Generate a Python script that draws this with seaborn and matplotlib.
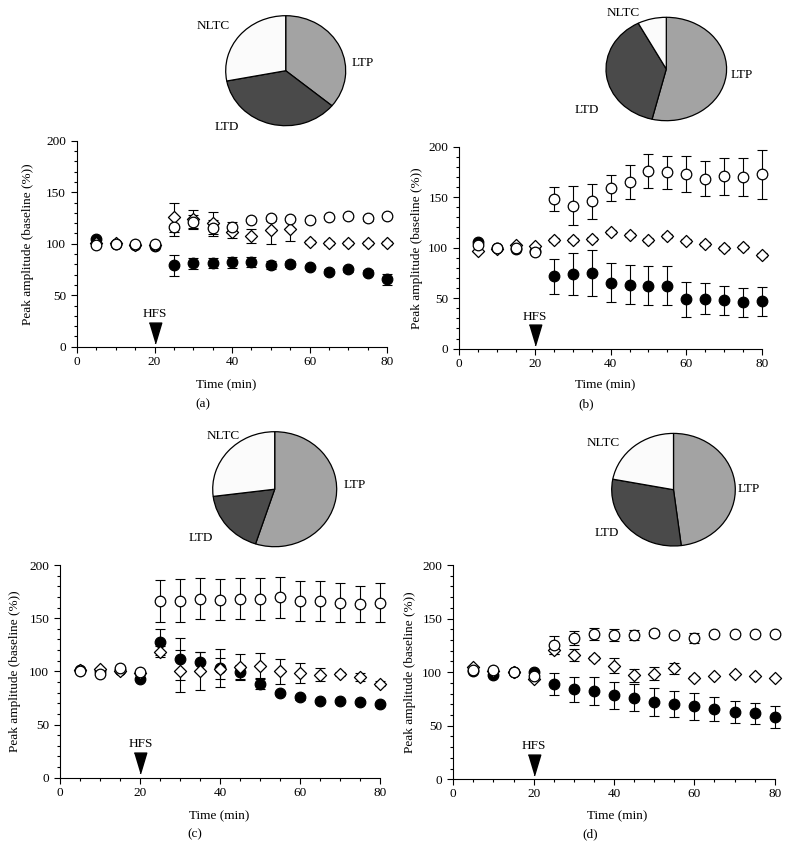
import matplotlib
matplotlib.use("Agg")
import matplotlib.pyplot as plt
import seaborn as sns
from matplotlib.ticker import MultipleLocator

# ---------------- data ----------------
time_min = [5, 10, 15, 20, 25, 30, 35, 40, 45, 50, 55, 60, 65, 70, 75, 80]

# panel (a)
ltd_a = [105, 100, 98.5, 98, 79, 81, 81, 82, 82, 79, 80, 77.5, 73, 75, 72, 65.5]
ltd_a_err = [1, 1, 1, 1, 10, 5.5, 5, 5.5, 5, 4, 3, 2, 2, 2, 2, 5.5]
ltp_a = [98.5, 100, 100, 100, 116.5, 121, 115, 116.5, 123, 124.5, 124, 123, 126, 127, 124.5, 127]
ltp_a_err = [1, 1, 1, 1, 9, 7, 8, 5, 2, 2, 2, 2, 2, 2, 2, 2]
nltc_a = [101, 101, 99, 99, 125.5, 124, 120, 111, 107.5, 113.5, 114, 101.5, 101, 100.5, 100.5, 100.5]
nltc_a_err = [1, 1, 1, 1, 14, 9, 11, 5, 6.5, 13.5, 11, 2, 2, 2, 2, 2]

# panel (b)
ltd_b = [106, 99.5, 98.5, 97, 71.5, 74, 75, 65.5, 63.5, 62.5, 62.5, 49, 49.5, 48, 46, 47]
ltd_b_err = [1, 1, 1, 1, 17, 21, 23, 19.5, 19.5, 19.5, 19, 17.5, 15.5, 14.5, 14.5, 14.5]
ltp_b = [103, 100, 100, 95.5, 148, 141.5, 146, 159, 165, 176, 174.5, 173, 168.5, 170.5, 170, 172.5]
ltp_b_err = [1, 1, 1, 1, 12, 19.5, 17.5, 13, 16.5, 17, 16, 18, 17.5, 18, 18.5, 24.5]
nltc_b = [97, 98.5, 103, 101.5, 107.5, 108, 109, 115.5, 112.5, 108, 112, 106.5, 103.5, 100, 100.5, 92.5]
nltc_b_err = [1, 1, 1, 1, 2, 2, 2, 2, 2, 2, 2, 2, 2, 2, 2, 2]

# panel (c)
ltd_c = [101, 100, 101, 93, 127.5, 111.5, 109, 103, 99, 88.5, 79.5, 75.5, 72, 72, 71.5, 69]
ltd_c_err = [1, 1, 1, 1, 12, 19.5, 9.5, 18, 7, 5, 2, 2, 2, 2, 2, 2]
ltp_c = [100.5, 97.5, 103, 99.5, 166, 166.5, 168.5, 167.5, 168.5, 168, 169.5, 166, 166, 164.5, 163.5, 164.5]
ltp_c_err = [1, 1, 1, 1, 20, 20, 19, 19, 19, 19.5, 19, 19, 19, 18.5, 17, 18.5]
nltc_c = [101, 102, 100, 98, 118.5, 100.5, 100, 102.5, 104.5, 105, 100, 98.5, 97, 97.5, 94.5, 88.5]
nltc_c_err = [1, 1, 1, 1, 5, 19.5, 18, 10, 12, 12.5, 11.5, 9, 6.5, 2, 4, 2]

# panel (d)
ltd_d = [101, 97, 100, 100, 89, 84, 82.5, 78.5, 76, 72.5, 70.5, 68, 65.5, 63, 61.5, 58]
ltd_d_err = [1, 1, 1, 1, 10.5, 11.5, 13, 12.5, 12.5, 13, 12, 12.5, 11.5, 10.5, 9.5, 10]
ltp_d = [102, 102, 100, 96.5, 125.5, 132, 135.5, 134.5, 134.5, 136.5, 135, 132, 135.5, 136, 136, 135.5]
ltp_d_err = [1, 1, 1, 1, 8.5, 6.5, 5.5, 5.5, 4.5, 2.5, 1, 4.5, 1, 1, 1, 1]
nltc_d = [104.5, 101.5, 100, 94, 121, 116, 113, 106, 97, 98.5, 103.5, 95, 96.5, 98, 96.5, 94.5]
nltc_d_err = [1, 1, 1, 1, 4, 6, 2, 7, 6, 6, 5.5, 1, 1, 1, 1, 1]

# pie charts (percent of cells)
pie_labels = ["LTP", "LTD", "NLTC"]
pie_a = [36, 36, 28]
pie_b = [53.8, 38.5, 7.7]
pie_c = [55, 18, 27]
pie_d = [48, 30, 22]
pie_colors = ["#a3a3a3", "#4a4a4a", "#fbfbfb"]

# ---------------- style ----------------
W, H = 789, 856
sns.set_theme(style="ticks")
plt.rcParams["font.family"] = ["Liberation Serif", "DejaVu Serif"]
FS = 9.5

fig = plt.figure(figsize=(W / 100, H / 100), dpi=100)
fig.patch.set_facecolor("white")


def px_axes(left, top, right, bottom):
    return fig.add_axes([left / W, 1 - bottom / H, (right - left) / W, (bottom - top) / H])


TRI = [(-0.3, 0.5), (0.3, 0.5), (0.0, -0.5)]


def draw_panel(box, ltd, ltd_e, ltp, ltp_e, nltc, nltc_e, ylab_x, xlab_xy, letter, letter_xy):
    ax = px_axes(*box)
    ax.set_facecolor("white")
    series = [
        (ltd, ltd_e, "o", "black", 58, 3),
        (nltc, nltc_e, "D", "white", 38, 4),
        (ltp, ltp_e, "o", "white", 58, 5),
    ]
    for vals, errs, marker, face, size, z in series:
        cont = ax.errorbar(time_min, vals, yerr=errs, fmt="none", ecolor="black",
                           elinewidth=0.8, capsize=3.6, capthick=0.8, zorder=2)
        for child in cont.get_children():
            child.set_clip_on(False)
    for vals, errs, marker, face, size, z in series:
        sns.scatterplot(x=time_min, y=vals, marker=marker, s=size, color=face,
                        edgecolor="black", linewidth=0.9, ax=ax, zorder=z,
                        legend=False, clip_on=False)
    ax.set_xlim(0, 80)
    ax.set_ylim(0, 200)
    ax.xaxis.set_major_locator(MultipleLocator(20))
    ax.xaxis.set_minor_locator(MultipleLocator(5))
    ax.yaxis.set_major_locator(MultipleLocator(50))
    ax.yaxis.set_minor_locator(MultipleLocator(10))
    ax.tick_params(which="both", direction="out", color="black", width=0.8,
                   labelsize=FS, labelcolor="black")
    ax.tick_params(which="major", length=4)
    ax.tick_params(which="minor", length=2.5)
    ax.tick_params(axis="x", pad=2.5)
    ax.tick_params(axis="y", pad=4)
    sns.despine(ax=ax)
    for s in ("left", "bottom"):
        ax.spines[s].set_color("black")
        ax.spines[s].set_linewidth(0.8)
    ax.set_ylabel("Peak amplitude (baseline (%))", fontsize=FS, color="black")
    ax.set_xlabel("Time (min)", fontsize=FS, color="black")
    ax.yaxis.label.set_va("center")
    ax.xaxis.label.set_va("center")
    ax.yaxis.set_label_coords(ylab_x, 0.5)
    ax.xaxis.set_label_coords(*xlab_xy)
    # HFS stimulus marker
    ax.plot(20, 13.5, marker=TRI, markersize=15, color="black", linestyle="none",
            zorder=6, clip_on=False)
    ax.text(20, 31.5, "HFS", ha="center", va="center", fontsize=FS, color="black")
    fig.text(letter_xy[0] / W, 1 - letter_xy[1] / H, letter, ha="center", va="center",
             fontsize=FS, color="black")
    return ax


def draw_pie(center, rx, ry, fracs, label_pos):
    cx, cy = center
    ax = px_axes(cx - rx, cy - ry, cx + rx, cy + ry)
    ax.pie(fracs, colors=pie_colors, startangle=90, counterclock=False,
           wedgeprops=dict(edgecolor="black", linewidth=0.9, clip_on=False))
    ax.set_aspect("auto")
    ax.set_xlim(-1, 1)
    ax.set_ylim(-1, 1)
    ax.axis("off")
    for lab, (lx, ly) in zip(pie_labels, label_pos):
        ax.text(lx, ly, lab, ha="center", va="center", fontsize=FS, color="black")


draw_panel((77, 140.7, 387, 346.7), ltd_a, ltd_a_err, ltp_a, ltp_a_err, nltc_a, nltc_a_err,
           -0.158, (0.48, -0.188), "(a)", (203, 404))
draw_panel((459.3, 146.7, 762, 348.7), ltd_b, ltd_b_err, ltp_b, ltp_b_err, nltc_b, nltc_b_err,
           -0.141, (0.481, -0.182), "(b)", (586, 404))
draw_panel((60.3, 565, 380.3, 777.7), ltd_c, ltd_c_err, ltp_c, ltp_c_err, nltc_c, nltc_c_err,
           -0.1416, (0.498, -0.182), "(c)", (195, 834.5))
draw_panel((453.3, 565, 774.7, 779.3), ltd_d, ltd_d_err, ltp_d, ltp_d_err, nltc_d, nltc_d_err,
           -0.135, (0.509, -0.174), "(d)", (590, 834.5))

draw_pie((285.7, 70.7), 60, 55, pie_a, [(1.28, 0.14), (-0.98, -1.02), (-1.21, 0.81)])
draw_pie((666.3, 69), 60.3, 51.7, pie_b, [(1.25, -0.12), (-1.32, -0.79), (-0.72, 1.08)])
draw_pie((274.7, 489.2), 62, 57.5, pie_c, [(1.29, 0.07), (-1.20, -0.85), (-0.83, 0.93)])
draw_pie((673.5, 489.7), 61.8, 56.3, pie_d, [(1.21, 0.01), (-1.08, -0.77), (-1.14, 0.83)])

fig.savefig("out.png", dpi=100, facecolor="white")
